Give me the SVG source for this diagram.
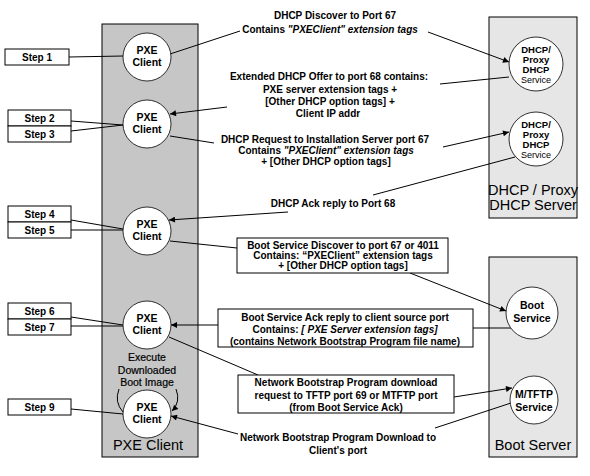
<svg xmlns="http://www.w3.org/2000/svg" width="590" height="476" viewBox="0 0 590 476">
<defs>
<marker id="arr" viewBox="0 0 10 10" refX="10" refY="5" markerWidth="8" markerHeight="6" markerUnits="userSpaceOnUse" orient="auto">
<path d="M0,0 L10,5 L0,10 z" fill="#000"/>
</marker>
</defs>
<style>
text{font-family:"Liberation Sans",Arial,sans-serif;fill:#000}
.b{font-size:10px;font-weight:bold;text-anchor:middle}
.c{font-size:10.5px;font-weight:bold;text-anchor:middle}
.d{font-size:9.5px;font-weight:bold;text-anchor:middle}
.s{font-size:9px;text-anchor:middle}
.big{font-size:14.5px;text-anchor:middle}
.ex{font-size:10.5px;text-anchor:middle;stroke:#000;stroke-width:0.2}
.i{font-style:italic}
.lane1{fill:#c6c6c6;stroke:#000;stroke-width:1}
.lane2{fill:#e6e6e6;stroke:#000;stroke-width:1}
.node{fill:#fff;stroke:#000;stroke-width:0.8}
.box{fill:#fff;stroke:#000;stroke-width:1}
.ln{fill:none;stroke:#000;stroke-width:1}
.al{fill:none;stroke:#000;stroke-width:1;marker-end:url(#arr)}
</style>
<rect width="590" height="476" fill="#fff"/>

<g id="lane-pxe">
<rect class="lane1" x="102" y="24" width="96" height="433"/>
<text class="big" x="148" y="450">PXE Client</text>
</g>
<g id="lane-dhcp">
<rect class="lane2" x="489" y="17" width="88" height="201"/>
<text class="big" x="533" y="195">DHCP / Proxy</text>
<text class="big" x="533" y="210">DHCP Server</text>
</g>
<g id="lane-boot">
<rect class="lane2" x="489" y="257" width="88" height="200"/>
<text class="big" x="533" y="450">Boot Server</text>
</g>

<g id="connectors">
<line class="ln" x1="69" y1="57" x2="123" y2="56"/>
<line class="ln" x1="71" y1="121" x2="123" y2="125"/>
<line class="ln" x1="71" y1="131" x2="123" y2="125"/>
<line class="ln" x1="71" y1="220" x2="123" y2="229"/>
<line class="ln" x1="71" y1="230" x2="123" y2="230"/>
<line class="ln" x1="71" y1="317" x2="123" y2="325"/>
<line class="ln" x1="71" y1="326" x2="123" y2="326"/>
<line class="ln" x1="71" y1="409" x2="123" y2="414"/>
<line class="ln" x1="170" y1="54" x2="240" y2="31"/>
<line class="al" x1="428" y1="32" x2="509" y2="62"/>
<line class="ln" x1="509" y1="77" x2="440" y2="84"/>
<line class="al" x1="227" y1="107" x2="170" y2="114"/>
<line class="ln" x1="170" y1="136" x2="214" y2="143"/>
<line class="al" x1="443" y1="147" x2="509" y2="132"/>
<line class="ln" x1="515" y1="157" x2="373" y2="195"/>
<line class="al" x1="288" y1="212" x2="169" y2="220"/>
<line class="ln" x1="170" y1="241" x2="237" y2="248"/>
<line class="al" x1="410" y1="273" x2="506" y2="311"/>
<line class="ln" x1="511" y1="328" x2="473" y2="328"/>
<line class="al" x1="218" y1="325" x2="171" y2="325"/>
<line class="ln" x1="169" y1="337" x2="258" y2="375"/>
<line class="al" x1="454" y1="397" x2="512" y2="388"/>
<line class="ln" x1="511" y1="403" x2="435" y2="428"/>
<line class="al" x1="238" y1="434" x2="171" y2="416"/>
<path class="ln" d="M119,389 Q114,402 123,412"/>
<path class="al" d="M176,389 Q181,402 172,411"/>
</g>

<g id="step1"><rect class="box" x="5" y="49" width="64" height="16"/><text class="b" x="37" y="60.5">Step 1</text></g>
<g id="step2"><rect class="box" x="8" y="110" width="63" height="16"/><text class="b" x="39.5" y="121.5">Step 2</text></g>
<g id="step3"><rect class="box" x="8" y="126" width="63" height="16"/><text class="b" x="39.5" y="137.5">Step 3</text></g>
<g id="step4"><rect class="box" x="8" y="206" width="63" height="16"/><text class="b" x="39.5" y="217.5">Step 4</text></g>
<g id="step5"><rect class="box" x="8" y="222" width="63" height="16"/><text class="b" x="39.5" y="233.5">Step 5</text></g>
<g id="step6"><rect class="box" x="8" y="303" width="63" height="16"/><text class="b" x="39.5" y="314.5">Step 6</text></g>
<g id="step7"><rect class="box" x="8" y="319" width="63" height="16"/><text class="b" x="39.5" y="330.5">Step 7</text></g>
<g id="step9"><rect class="box" x="8" y="399" width="63" height="16"/><text class="b" x="39.5" y="410.5">Step 9</text></g>

<g id="pxe1"><circle class="node" cx="147" cy="57" r="24"/><text class="c" x="147" y="54">PXE</text><text class="c" x="147" y="66">Client</text></g>
<g id="pxe2"><circle class="node" cx="147" cy="124" r="24"/><text class="c" x="147" y="121">PXE</text><text class="c" x="147" y="133">Client</text></g>
<g id="pxe3"><circle class="node" cx="147" cy="231" r="24"/><text class="c" x="147" y="228">PXE</text><text class="c" x="147" y="240">Client</text></g>
<g id="pxe4"><circle class="node" cx="147" cy="325" r="24"/><text class="c" x="147" y="322">PXE</text><text class="c" x="147" y="334">Client</text></g>
<g id="exec"><text class="ex" x="147" y="361">Execute</text><text class="ex" x="147" y="373.5">Downloaded</text><text class="ex" x="147" y="386">Boot Image</text></g>
<g id="pxe5"><circle class="node" cx="147" cy="414" r="24"/><text class="c" x="147" y="411">PXE</text><text class="c" x="147" y="423">Client</text></g>

<g id="dhcp1"><circle class="node" cx="536" cy="64" r="27"/><text class="d" x="536" y="53">DHCP/</text><text class="d" x="536" y="63">Proxy</text><text class="d" x="536" y="72.5">DHCP</text><text class="s" x="536" y="82.5">Service</text></g>
<g id="dhcp2"><circle class="node" cx="536" cy="139" r="27"/><text class="d" x="536" y="128">DHCP/</text><text class="d" x="536" y="138">Proxy</text><text class="d" x="536" y="147.5">DHCP</text><text class="s" x="536" y="157.5">Service</text></g>
<g id="bootsvc"><circle class="node" cx="532" cy="313" r="26"/><text class="c" x="532" y="309">Boot</text><text class="c" x="532" y="322">Service</text></g>
<g id="tftp"><circle class="node" cx="534" cy="400" r="24"/><text class="c" x="534" y="397.5">M/TFTP</text><text class="c" x="534" y="410.5">Service</text></g>

<g id="lbl-discover"><text class="b" x="335" y="19">DHCP Discover to Port 67</text><text class="b" x="330" y="33">Contains  <tspan class="i">"PXEClient" extension tags</tspan></text></g>
<g id="lbl-offer"><text class="b" x="329" y="80">Extended DHCP Offer to port 68 contains:</text><text class="b" x="330" y="92.5">PXE server extension tags +</text><text class="b" x="330" y="105">[Other DHCP option tags] +</text><text class="b" x="328" y="117">Client IP addr</text></g>
<g id="lbl-request"><text class="b" x="325" y="143">DHCP Request to Installation Server port 67</text><text class="b" x="326" y="154">Contains  <tspan class="i">"PXEClient" extension tags</tspan></text><text class="b" x="326" y="165">+ [Other DHCP option tags]</text></g>
<g id="lbl-ack"><text class="b" x="333" y="207">DHCP Ack reply to Port 68</text></g>
<g id="box-bsd"><rect class="box" x="237" y="238" width="211" height="35"/><text class="b" x="343" y="248.5">Boot Service Discover to port 67 or 4011</text><text class="b" x="343" y="258.5">Contains: “PXEClient” extension tags</text><text class="b" x="343" y="268.5">+ [Other DHCP option tags]</text></g>
<g id="box-bsa"><rect class="box" x="218" y="309" width="255" height="38"/><text class="b" x="345" y="320.5">Boot Service Ack reply to client source port</text><text class="b" x="345" y="333">Contains: <tspan class="i">[ PXE Server extension tags]</tspan></text><text class="b" x="345" y="345">(contains Network Bootstrap Program file name)</text></g>
<g id="box-nbp"><rect class="box" x="238" y="375" width="216" height="38"/><text class="b" x="346" y="386">Network Bootstrap Program download</text><text class="b" x="346" y="398.5">request to TFTP port 69 or MTFTP port</text><text class="b" x="346" y="411">(from Boot Service Ack)</text></g>
<g id="lbl-dl"><text class="b" x="338" y="441">Network Bootstrap Program Download to</text><text class="b" x="338" y="454">Client's port</text></g>
</svg>
